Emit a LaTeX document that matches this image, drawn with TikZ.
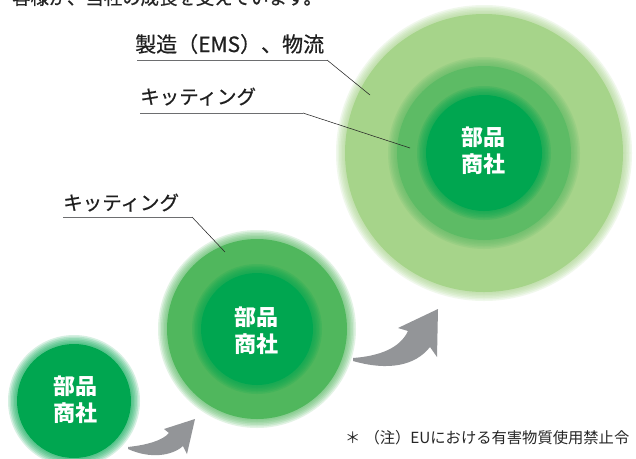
\documentclass[tikz,border=0pt]{standalone}
\usepackage{fontspec}
\newfontfamily\jp{Noto Sans CJK JP}
\newfontfamily\jpm[FakeBold=0.6]{Noto Sans CJK JP}
\definecolor{gOuter}{HTML}{A6D48A}
\definecolor{gMid}{HTML}{5DBB65}
\definecolor{gMidB}{HTML}{50B75D}
\definecolor{gCore}{HTML}{00A650}
\definecolor{arrowgray}{HTML}{939598}
\definecolor{lineGray}{HTML}{6D6E70}
\newcommand{\softdisc}[3]{%
  \foreach \k in {9,7.5,6,4.5,3,1.5}{\fill[#3,opacity=0.16] (#1) circle[radius={(#2+\k)*1pt}];}
  \fill[#3] (#1) circle[radius={(#2)*1pt}];}
\tikzset{
  core/.style={text=white,align=center,inner sep=0pt,font=\jp\bfseries\fontsize{22}{27}\selectfont},
  lbl/.style={anchor=base west,inner sep=0pt,text=black!88,font=\jpm\fontsize{20}{24}\selectfont},
  uline/.style={draw=lineGray,line width=0.9pt},
  leader/.style={draw=black!85,line width=0.55pt},
  bigarrow/.style={fill=arrowgray,draw=none}
}
\begin{document}
\begin{tikzpicture}[x=1pt,y=-1pt]
\clip (0,0) rectangle (636,458);
\fill[white] (0,0) rectangle (636,458);
% centres
\coordinate (cL) at (484,153);
\coordinate (cM) at (257,329);
\coordinate (cS) at (74,401);
% large circle
\softdisc{cL}{139}{gOuter}
\softdisc{cL}{87}{gMid}
\softdisc{cL}{58}{gCore}
% medium circle
\softdisc{cM}{90}{gMidB}
\softdisc{cM}{56}{gCore}
% small circle
\softdisc{cS}{57}{gCore}
% texts in circles
\node[core] (tL) at (483,151) {部品\\商社};
\node[core] (tM) at (256,331) {部品\\商社};
\node[core] (tS) at (75,400) {部品\\商社};
% arrows
\fill[bigarrow] (128,447) .. controls (146,445) and (162,441) .. (169,433) -- (164,429) -- (195,419) -- (187,454) -- (183,446) .. controls (172,456) and (150,459) .. (128,449) -- cycle;
\fill[bigarrow] (353,358) .. controls (380,356) and (400,348) .. (408,331) -- (398,328) -- (438,309) -- (437,357) -- (430,347) .. controls (415,366) and (388,371) .. (353,361) -- cycle;
% labels
\node[lbl,font=\jpm\fontsize{21}{25}\selectfont] (l1) at (135,52) {製造（EMS）、物流};
\coordinate (u1a) at (137,60);
\coordinate (u1b) at (327,60);
\coordinate (p1) at (370,95);
\draw[uline] (u1a) -- (u1b);
\draw[leader] (u1b) -- (p1);
\node[lbl,font=\jpm\fontsize{19.5}{24}\selectfont] (l2) at (140,104) {キッティング};
\coordinate (u2a) at (140,113);
\coordinate (u2b) at (303,113);
\coordinate (p2) at (410,148);
\draw[uline] (u2a) -- (u2b);
\draw[leader] (u2b) -- (p2);
\node[lbl,font=\jpm\fontsize{19.5}{24}\selectfont] (l3) at (63,210) {キッティング};
\coordinate (u3a) at (63,217);
\coordinate (u3b) at (192,217);
\coordinate (p3) at (225,252);
\draw[uline] (u3a) -- (u3b);
\draw[leader] (u3b) -- (p3);
% top (clipped) line
\node[anchor=base west,inner sep=0pt,text=black!85,font=\jpm\fontsize{18.4}{22}\selectfont] (top) at (12,4.5) {客様が、当社の成長を支えています。};
% footnote
\node[anchor=base west,inner sep=0pt,text=black!85,font=\jp\fontsize{15.3}{18}\selectfont] (note) at (345,443) {＊\hspace{4pt}（注）EUにおける有害物質使用禁止令};
\end{tikzpicture}
\end{document}
